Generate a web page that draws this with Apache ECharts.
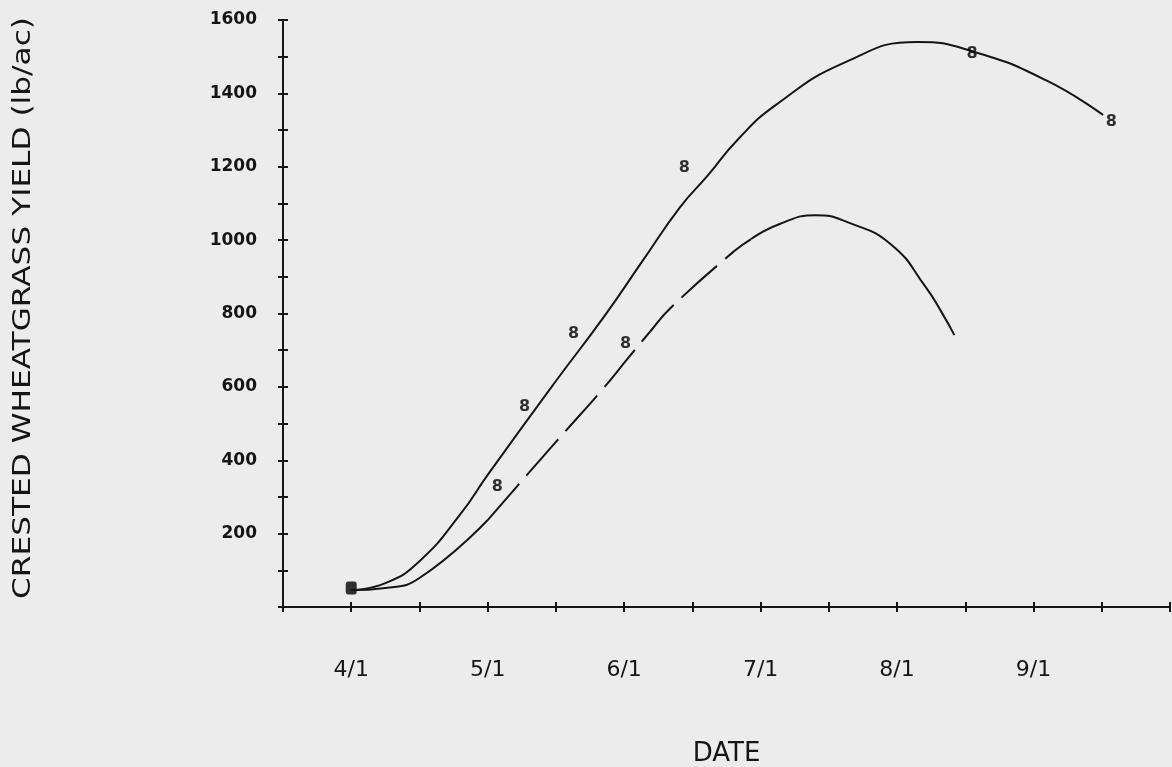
<!DOCTYPE html>
<html>
<head>
<meta charset="utf-8">
<title>Crested wheatgrass yield</title>
<script src="https://cdn.jsdelivr.net/npm/echarts@6/dist/echarts.min.js"></script>
<style>
html, body { margin: 0; padding: 0; background: #ececec; }
#chart { width: 1172px; height: 767px; }
</style>
</head>
<body>
<div id="chart"></div>
<script>
// x values are months after 4/1
var dateLabels = ['4/1', '5/1', '6/1', '7/1', '8/1', '9/1'];

var upperMonths = [0, 0.25, 0.5, 0.8, 1.0, 1.5, 1.85, 2.14, 2.41, 2.61, 2.83, 3.11, 3.61, 4.15, 4.55, 5.09, 5.51];
var upperYield  = [46, 65, 125, 253, 360, 616, 790, 946, 1090, 1175, 1273, 1368, 1483, 1540, 1515, 1436, 1341];

var lowerMonths = [0, 0.25, 0.5, 1.0, 1.5, 1.85, 2.03, 2.2, 2.34, 2.8, 2.93, 3.14, 3.4, 3.65, 3.96, 4.21, 4.33, 4.42];
var lowerYield  = [46, 52, 79, 237, 450, 597, 679, 755, 815, 968, 1003, 1044, 1068, 1047, 987, 872, 801, 741];

var obsMonths = [1.07, 1.27, 1.63, 2.01, 2.44, 4.55, 5.57];
var obsYield  = [327, 545, 744, 717, 1197, 1507, 1322];

var startMonths = [0];
var startYield  = [52];

function pairs(xs, ys, from, to) {
	var out = [];
	for (var i = from; i <= to; i++) out.push([xs[i], ys[i]]);
	return out;
}

var ink = '#151515';
var last = lowerMonths.length - 1;

var chart = echarts.init(document.getElementById('chart'));

var options =
{
	backgroundColor: '#ececec',
	animation: false,
	grid: { left: 283, right: 2, top: 20, bottom: 160, outerBoundsMode: 'none' },
	xAxis:
	[
		{
			type: 'value', min: -0.5, max: 6, interval: 0.5, position: 'bottom',
			splitLine: { show: false },
			axisLine: { show: true, onZero: false, lineStyle: { color: ink, width: 2 } },
			axisTick: { show: true, inside: false, length: 5, lineStyle: { color: ink, width: 2 } },
			axisLabel:
			{
				margin: 52, color: ink, fontFamily: 'DejaVu Sans', fontSize: 22,
				formatter: function(v)
				{
					var i = Math.round(v);
					return (Math.abs(v - i) < 1e-6 && i >= 0 && i < dateLabels.length) ? dateLabels[i] : '';
				}
			},
			name: 'DATE', nameLocation: 'middle', nameGap: 134,
			nameTextStyle: { color: ink, fontFamily: 'DejaVu Sans', fontSize: 26 }
		},
		{
			type: 'value', min: -0.5, max: 6, interval: 0.5, position: 'bottom',
			splitLine: { show: false },
			axisLine: { show: false, onZero: false },
			axisTick: { show: true, inside: true, length: 5, lineStyle: { color: ink, width: 2 } },
			axisLabel: { show: false }
		}
	],
	yAxis:
	[
		{
			type: 'value', min: 0, max: 1600, interval: 100, position: 'left',
			splitLine: { show: false },
			axisLine: { show: true, onZero: false, lineStyle: { color: ink, width: 2 } },
			axisTick: { show: true, inside: false, length: 5, lineStyle: { color: ink, width: 2 } },
			axisLabel:
			{
				margin: 26, color: ink, fontFamily: 'DejaVu Sans', fontWeight: 'bold', fontSize: 17,
				formatter: function(v) { return (v > 0 && v % 200 === 0) ? String(v) : ''; }
			}
		},
		{
			type: 'value', min: 0, max: 1600, interval: 100, position: 'left',
			splitLine: { show: false },
			axisLine: { show: false, onZero: false },
			axisTick: { show: true, inside: true, length: 5, lineStyle: { color: ink, width: 2 } },
			axisLabel: { show: false }
		}
	],
	graphic:
	[
		{
			type: 'text', x: 24, y: 308, rotation: Math.PI / 2, scaleX: 1.3,
			style:
			{
				text: 'CRESTED WHEATGRASS YIELD (lb/ac)',
				fill: ink, font: '24px "DejaVu Sans"',
				align: 'center', verticalAlign: 'middle'
			}
		}
	],
	series:
	[
		{
			name: 'upper', type: 'line', smooth: 0.5, showSymbol: false,
			data: pairs(upperMonths, upperYield, 0, upperMonths.length - 1),
			lineStyle: { color: ink, width: 2 }
		},
		{
			name: 'lower', type: 'line', smooth: 0.5, showSymbol: false,
			data: pairs(lowerMonths, lowerYield, 0, 3),
			lineStyle: { color: ink, width: 2 }
		},
		{
			name: 'lower', type: 'line', smooth: 0.5, showSymbol: false,
			data: pairs(lowerMonths, lowerYield, 3, 10),
			lineStyle: { color: ink, width: 2, type: [48, 11] }
		},
		{
			name: 'lower', type: 'line', smooth: 0.5, showSymbol: false,
			data: pairs(lowerMonths, lowerYield, 10, last),
			lineStyle: { color: ink, width: 2 }
		},
		{
			name: 'start', type: 'scatter', symbol: 'roundRect', symbolSize: [11, 13],
			data: pairs(startMonths, startYield, 0, 0),
			itemStyle: { color: '#000' }
		},
		{
			name: 'observed', type: 'scatter', symbol: 'circle', symbolSize: 2, z: 5,
			data: pairs(obsMonths, obsYield, 0, obsMonths.length - 1),
			itemStyle: { color: 'rgba(0,0,0,0)' },
			label:
			{
				show: true, position: 'inside', formatter: '8',
				color: '#000', fontFamily: 'DejaVu Sans', fontWeight: 'bold', fontSize: 16
			}
		}
	]
};

chart.setOption(options);
</script>
</body>
</html>
